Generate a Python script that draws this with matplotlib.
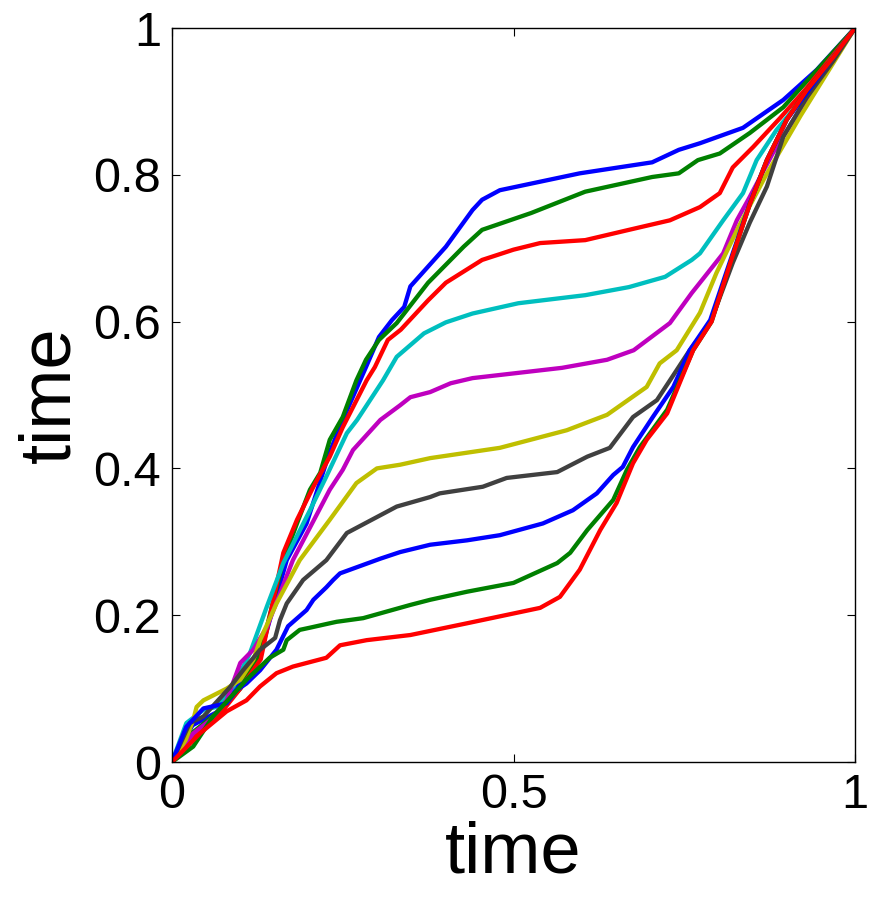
import matplotlib
matplotlib.use("Agg")
import matplotlib.pyplot as plt

plt.rcParams['font.family'] = ['Liberation Sans', 'DejaVu Sans']

# ---- data ----
c1_x = [0, 0.03, 0.07, 0.10, 0.13, 0.168, 0.197, 0.23, 0.25, 0.284, 0.303, 0.322, 0.34, 0.349, 0.375, 0.401, 0.44, 0.454, 0.48, 0.597, 0.703, 0.742, 0.773, 0.836, 0.895, 0.944, 1.0]
c1_y = [0, 0.05, 0.07, 0.11, 0.15, 0.275, 0.325, 0.42, 0.466, 0.538, 0.579, 0.602, 0.62, 0.648, 0.675, 0.702, 0.752, 0.766, 0.779, 0.802, 0.817, 0.834, 0.843, 0.864, 0.902, 0.943, 1.0]

c2_x = [0, 0.03, 0.07, 0.10, 0.13, 0.163, 0.183, 0.202, 0.217, 0.231, 0.25, 0.27, 0.284, 0.303, 0.329, 0.375, 0.427, 0.454, 0.526, 0.605, 0.703, 0.742, 0.770, 0.802, 0.846, 0.895, 0.929, 1.0]
c2_y = [0, 0.04, 0.07, 0.10, 0.15, 0.275, 0.325, 0.371, 0.394, 0.439, 0.47, 0.52, 0.548, 0.575, 0.598, 0.653, 0.702, 0.725, 0.748, 0.777, 0.797, 0.802, 0.82, 0.829, 0.857, 0.892, 0.927, 1.0]

c3_x = [0, 0.03, 0.07, 0.10, 0.13, 0.163, 0.183, 0.207, 0.231, 0.25, 0.285, 0.297, 0.316, 0.335, 0.375, 0.401, 0.454, 0.5, 0.539, 0.605, 0.669, 0.729, 0.773, 0.802, 0.821, 0.851, 0.89, 0.929, 1.0]
c3_y = [0, 0.035, 0.065, 0.10, 0.14, 0.285, 0.33, 0.375, 0.416, 0.456, 0.52, 0.538, 0.575, 0.589, 0.629, 0.653, 0.684, 0.698, 0.707, 0.711, 0.725, 0.738, 0.756, 0.775, 0.81, 0.838, 0.877, 0.918, 1.0]

c4_x = [0, 0.021, 0.046, 0.065, 0.09, 0.114, 0.139, 0.163, 0.202, 0.226, 0.256, 0.271, 0.309, 0.329, 0.369, 0.401, 0.44, 0.507, 0.605, 0.669, 0.722, 0.761, 0.773, 0.807, 0.836, 0.856, 0.885, 0.909, 1.0]
c4_y = [0, 0.053, 0.071, 0.075, 0.103, 0.148, 0.212, 0.271, 0.343, 0.389, 0.448, 0.466, 0.52, 0.552, 0.584, 0.599, 0.611, 0.625, 0.636, 0.647, 0.661, 0.684, 0.693, 0.738, 0.775, 0.82, 0.861, 0.888, 1.0]

c5_x = [0, 0.031, 0.056, 0.08, 0.10, 0.119, 0.139, 0.177, 0.231, 0.25, 0.265, 0.305, 0.334, 0.349, 0.378, 0.408, 0.44, 0.571, 0.637, 0.676, 0.729, 0.761, 0.773, 0.807, 0.827, 0.846, 0.88, 0.92, 1.0]
c5_y = [0, 0.039, 0.057, 0.084, 0.135, 0.153, 0.184, 0.275, 0.371, 0.398, 0.425, 0.466, 0.486, 0.497, 0.504, 0.516, 0.523, 0.537, 0.548, 0.561, 0.598, 0.639, 0.653, 0.693, 0.738, 0.77, 0.83, 0.89, 1.0]

c6_x = [0, 0.02, 0.031, 0.036, 0.046, 0.08, 0.10, 0.119, 0.129, 0.153, 0.187, 0.231, 0.27, 0.30, 0.334, 0.378, 0.48, 0.578, 0.637, 0.695, 0.714, 0.739, 0.773, 0.797, 0.83, 0.87, 0.92, 1.0]
c6_y = [0, 0.03, 0.057, 0.075, 0.084, 0.10, 0.112, 0.139, 0.166, 0.216, 0.275, 0.33, 0.38, 0.40, 0.405, 0.414, 0.428, 0.452, 0.473, 0.511, 0.543, 0.561, 0.612, 0.666, 0.73, 0.80, 0.88, 1.0]

c7_x = [0, 0.026, 0.046, 0.085, 0.104, 0.129, 0.151, 0.158, 0.168, 0.192, 0.226, 0.256, 0.329, 0.378, 0.392, 0.455, 0.49, 0.564, 0.608, 0.641, 0.675, 0.71, 0.739, 0.758, 0.788, 0.821, 0.846, 0.871, 0.895, 0.929, 0.968, 1.0]
c7_y = [0, 0.053, 0.062, 0.102, 0.125, 0.153, 0.169, 0.193, 0.216, 0.248, 0.275, 0.312, 0.348, 0.361, 0.366, 0.375, 0.387, 0.395, 0.416, 0.428, 0.470, 0.493, 0.534, 0.561, 0.598, 0.68, 0.735, 0.784, 0.852, 0.905, 0.955, 1.0]

c8_x = [0, 0.021, 0.046, 0.08, 0.095, 0.109, 0.129, 0.153, 0.17, 0.197, 0.207, 0.226, 0.236, 0.246, 0.305, 0.334, 0.378, 0.432, 0.48, 0.543, 0.587, 0.622, 0.646, 0.66, 0.675, 0.704, 0.734, 0.758, 0.788, 0.821, 0.846, 0.871, 0.90, 0.929, 0.968, 1.0]
c8_y = [0, 0.048, 0.073, 0.08, 0.098, 0.107, 0.125, 0.153, 0.185, 0.207, 0.221, 0.238, 0.248, 0.257, 0.277, 0.286, 0.296, 0.302, 0.309, 0.325, 0.343, 0.366, 0.391, 0.402, 0.429, 0.47, 0.511, 0.561, 0.602, 0.693, 0.761, 0.82, 0.875, 0.911, 0.96, 1.0]

c9_x = [0, 0.031, 0.06, 0.109, 0.143, 0.163, 0.168, 0.187, 0.202, 0.231, 0.241, 0.28, 0.349, 0.378, 0.432, 0.5, 0.564, 0.583, 0.608, 0.646, 0.666, 0.685, 0.725, 0.763, 0.79, 0.821, 0.846, 0.871, 0.90, 0.929, 0.968, 1.0]
c9_y = [0, 0.021, 0.062, 0.112, 0.142, 0.153, 0.166, 0.18, 0.183, 0.189, 0.191, 0.196, 0.214, 0.221, 0.232, 0.244, 0.271, 0.285, 0.316, 0.357, 0.398, 0.429, 0.480, 0.561, 0.60, 0.69, 0.76, 0.82, 0.875, 0.915, 0.96, 1.0]

c10_x = [0, 0.041, 0.08, 0.109, 0.129, 0.153, 0.177, 0.226, 0.246, 0.285, 0.349, 0.432, 0.539, 0.568, 0.597, 0.627, 0.651, 0.675, 0.695, 0.725, 0.763, 0.79, 0.821, 0.846, 0.871, 0.90, 0.929, 0.968, 1.0]
c10_y = [0, 0.039, 0.069, 0.084, 0.103, 0.121, 0.13, 0.142, 0.159, 0.166, 0.173, 0.189, 0.210, 0.225, 0.262, 0.316, 0.353, 0.407, 0.439, 0.475, 0.561, 0.60, 0.69, 0.76, 0.82, 0.875, 0.915, 0.96, 1.0]

curves_x = [c1_x, c2_x, c3_x, c4_x, c5_x, c6_x, c7_x, c8_x, c9_x, c10_x]
curves_y = [c1_y, c2_y, c3_y, c4_y, c5_y, c6_y, c7_y, c8_y, c9_y, c10_y]
colors = [(0, 0, 1), (0, 0.5, 0), (1, 0, 0), (0, 0.75, 0.75), (0.75, 0, 0.75),
          (0.75, 0.75, 0), (0.25, 0.25, 0.25), (0, 0, 1), (0, 0.5, 0), (1, 0, 0)]

x_ticks = [0, 0.5, 1]
x_tick_labels = ['0', '0.5', '1']
y_ticks = [0, 0.2, 0.4, 0.6, 0.8, 1]
y_tick_labels = ['0', '0.2', '0.4', '0.6', '0.8', '1']

fig = plt.figure(figsize=(8.71, 9.0), dpi=100)
ax = fig.add_axes([172/871, 138/900, 683/871, 734/900])

for xs, ys, col in zip(curves_x, curves_y, colors):
    ax.plot(xs, ys, color=col, lw=3.1, solid_joinstyle='round')

ax.set_xlim(0, 1)
ax.set_ylim(0, 1)
ax.set_xticks(x_ticks)
ax.set_xticklabels(x_tick_labels)
ax.set_yticks(y_ticks)
ax.set_yticklabels(y_tick_labels)
ax.tick_params(direction='in', length=6, width=0.8, top=True, right=True,
               labelsize=35)
ax.tick_params(axis='x', pad=8)
ax.tick_params(axis='y', pad=8)
for s in ax.spines.values():
    s.set_linewidth(1.0)

ax.set_xlabel('time', fontsize=52, labelpad=2)
ax.set_ylabel('time', fontsize=52, labelpad=6)

fig.savefig('out.png', dpi=100)
